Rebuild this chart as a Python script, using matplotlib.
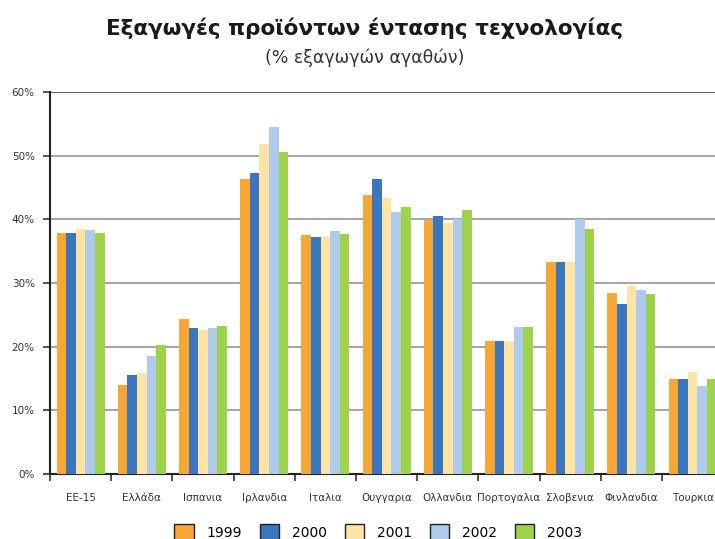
import matplotlib
matplotlib.use("Agg")
import matplotlib.pyplot as plt
import numpy as np
from matplotlib.patches import Patch

categories = ["ΕΕ-15", "Ελλάδα", "Ισπανια", "Ιρλανδια", "Ιταλια", "Ουγγαρια",
              "Ολλανδια", "Πορτογαλια", "Σλοβενια", "Φινλανδια", "Τουρκια"]
years = ["1999", "2000", "2001", "2002", "2003"]
v1999 = [37.9, 14.0, 24.4, 46.4, 37.5, 43.9, 39.9, 20.9, 33.3, 28.5, 14.9]
v2000 = [37.9, 15.5, 22.9, 47.2, 37.2, 46.4, 40.6, 20.9, 33.3, 26.7, 14.9]
v2001 = [38.5, 15.8, 22.6, 51.9, 37.2, 43.3, 39.5, 20.9, 33.3, 29.5, 16.0]
v2002 = [38.3, 18.5, 22.9, 54.5, 38.1, 41.2, 40.0, 23.1, 40.0, 28.9, 13.9]
v2003 = [37.9, 20.2, 23.3, 50.6, 37.7, 41.9, 41.5, 23.1, 38.5, 28.3, 14.9]
series = [v1999, v2000, v2001, v2002, v2003]
colors = ["#F7A733", "#3A75BE", "#FDE4A4", "#AECBEE", "#9ED24A"]
yticks = [0, 10, 20, 30, 40, 50, 60]

W, H = 715, 539
fig = plt.figure(figsize=(W/100, H/100), dpi=100)
left = 50 / W
width = 11 * 61.2 / W
bottom = 1 - 474 / H
top = 1 - 92 / H
ax = fig.add_axes([left, bottom, width, top - bottom])

x = np.arange(len(categories))
bw = 0.157
for i, (vals, c) in enumerate(zip(series, colors)):
    ax.bar(x + (i - 2) * bw, vals, width=bw, color=c, edgecolor="none",
           label=years[i], zorder=3)

ax.set_xlim(-0.5, len(categories) - 0.5)
ax.set_ylim(0, 60)
ax.set_yticks(yticks)
ax.set_yticklabels([f"{t}%" for t in yticks], fontsize=7.5, color="#333333")
for t in yticks[1:]:
    ax.axhline(t, color="#333333" if t == 60 else "#8a8a8a", lw=1.1, zorder=1)

ax.set_xticks(x)
ax.set_xticklabels(categories, fontsize=7.5, color="#333333")
ax.tick_params(axis="x", length=0, pad=14)
ax.set_xticks(np.arange(-0.5, len(categories), 1), minor=True)
ax.tick_params(axis="x", which="minor", length=5, width=1.2, color="#333333", direction="out")
ax.tick_params(axis="y", length=5, width=1.2, color="#333333", pad=6)

for s in ["top", "right"]:
    ax.spines[s].set_visible(False)
ax.spines["left"].set_linewidth(1.5)
ax.spines["left"].set_color("#222222")
ax.spines["bottom"].set_linewidth(1.5)
ax.spines["bottom"].set_color("#222222")

fig.text(365 / W, 1 - 28 / H, "Εξαγωγές προϊόντων έντασης τεχνολογίας",
         ha="center", va="center", fontsize=15.5, fontweight="bold", color="#1a1a1a")
fig.text(365 / W, 1 - 58 / H, "(% εξαγωγών αγαθών)",
         ha="center", va="center", fontsize=12.5, color="#333333")

handles = [Patch(facecolor=c, edgecolor="#222222", linewidth=1) for c in colors]
fig.legend(handles, years, loc="center", bbox_to_anchor=(378 / W, 1 - 532 / H),
           ncol=5, frameon=False, fontsize=10, handlelength=1.4, handleheight=1.4,
           columnspacing=1.3, handletextpad=0.9)

fig.savefig("out.png", dpi=100)
